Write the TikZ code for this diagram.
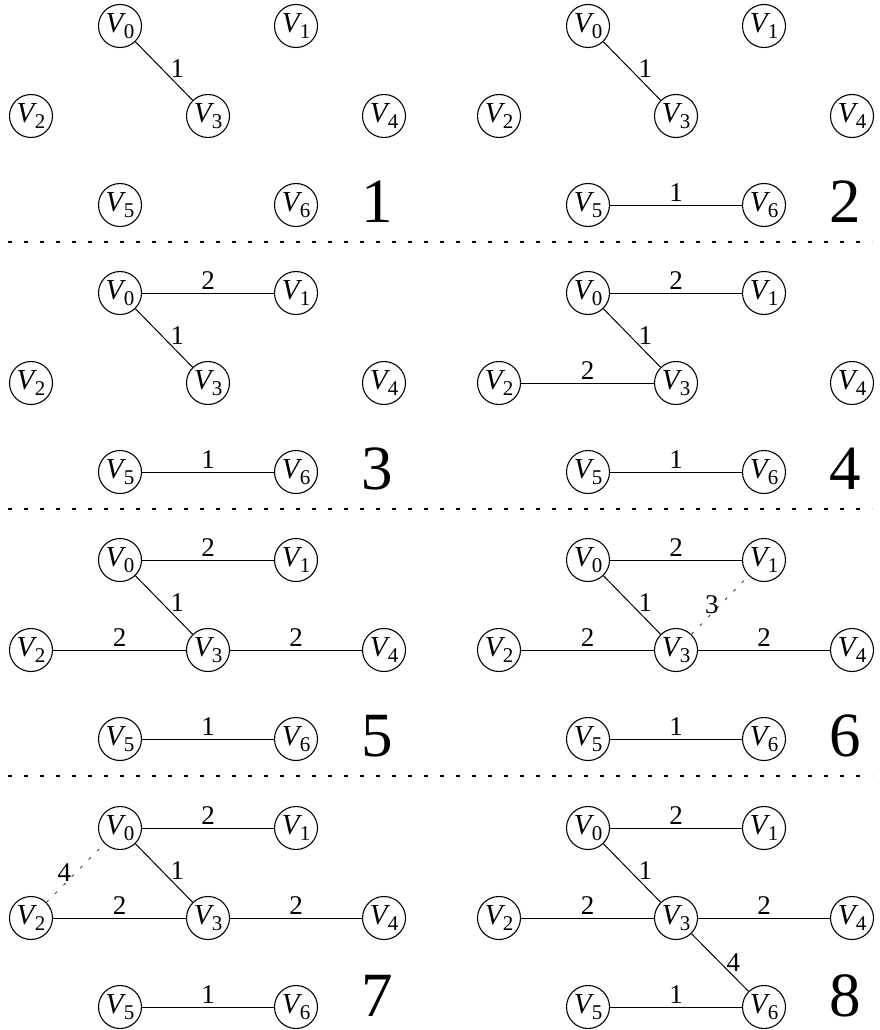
\documentclass[tikz,border=0pt]{standalone}
\usepackage{fontspec}
\setmainfont{Liberation Serif}
\newcommand\Vsub[1]{\fontsize{29}{29}\selectfont\textit{V}\kern-2.5pt\raisebox{-6pt}{\fontsize{21}{21}\selectfont #1}}
\tikzset{
  vert/.style={circle, draw, line width=1.1pt, minimum size=43pt, inner sep=0pt},
  edge/.style={line width=1pt},
  cand/.style={line width=0.9pt, dash pattern=on 3pt off 9pt, black!75},
  lab/.style={font=\fontsize{27}{27}\selectfont, inner sep=2pt, text=black},
  stepnum/.style={font=\fontsize{63}{63}\selectfont, anchor=base, inner sep=0pt, text depth=0pt},
  sep/.style={line width=2pt, dash pattern=on 4pt off 12pt}
}
\newcommand\graphnodes[3]{%
  \node[vert] (#1-0) at (120+#2, 26+#3) {\Vsub{0}};
  \node[vert] (#1-1) at (296+#2, 26+#3) {\Vsub{1}};
  \node[vert] (#1-2) at (31+#2, 116+#3) {\Vsub{2}};
  \node[vert] (#1-3) at (208+#2, 116+#3) {\Vsub{3}};
  \node[vert] (#1-4) at (384+#2, 116+#3) {\Vsub{4}};
  \node[vert] (#1-5) at (120+#2, 205+#3) {\Vsub{5}};
  \node[vert] (#1-6) at (296+#2, 205+#3) {\Vsub{6}};
}
\newcommand\eOne[1]{\draw[edge] (#1-0) -- node[lab, right, xshift=4pt, yshift=2pt] {1} (#1-3);}
\newcommand\eFive[1]{\draw[edge] (#1-5) -- node[lab, above, inner sep=3pt] {1} (#1-6);}
\newcommand\eTwoA[1]{\draw[edge] (#1-0) -- node[lab, above, inner sep=3pt] {2} (#1-1);}
\newcommand\eTwoB[1]{\draw[edge] (#1-2) -- node[lab, above, inner sep=3pt] {2} (#1-3);}
\newcommand\eTwoC[1]{\draw[edge] (#1-3) -- node[lab, above, inner sep=3pt] {2} (#1-4);}
\begin{document}
\begin{tikzpicture}[x=1pt, y=-1pt]
\useasboundingbox (0,0) rectangle (879,1030);
% panel 1
\graphnodes{p1}{0}{0}
\eOne{p1}
\node[stepnum] (n1) at (377, 222) {1};
% panel 2
\graphnodes{p2}{468}{0}
\eOne{p2} \eFive{p2}
\node[stepnum] (n2) at (845, 222) {2};
% separator
\coordinate (s1a) at (8, 242); \coordinate (s1b) at (872, 242);
\draw[sep] (s1a) -- (s1b);
% panel 3
\graphnodes{p3}{0}{267}
\eOne{p3} \eFive{p3} \eTwoA{p3}
\node[stepnum] (n3) at (377, 489) {3};
% panel 4
\graphnodes{p4}{468}{267}
\eOne{p4} \eFive{p4} \eTwoA{p4} \eTwoB{p4}
\node[stepnum] (n4) at (845, 489) {4};
\coordinate (s2a) at (8, 509); \coordinate (s2b) at (872, 509);
\draw[sep] (s2a) -- (s2b);
% panel 5
\graphnodes{p5}{0}{534}
\eOne{p5} \eFive{p5} \eTwoA{p5} \eTwoB{p5} \eTwoC{p5}
\node[stepnum] (n5) at (377, 756) {5};
% panel 6
\graphnodes{p6}{468}{534}
\eOne{p6} \eFive{p6} \eTwoA{p6} \eTwoB{p6} \eTwoC{p6}
\draw[cand] (p6-3) -- node[lab, left, xshift=1pt] {3} (p6-1);
\node[stepnum] (n6) at (845, 756) {6};
\coordinate (s3a) at (8, 776); \coordinate (s3b) at (872, 776);
\draw[sep] (s3a) -- (s3b);
% panel 7
\graphnodes{p7}{0}{802}
\eOne{p7} \eFive{p7} \eTwoA{p7} \eTwoB{p7} \eTwoC{p7}
\draw[cand] (p7-2) -- node[lab, left, xshift=-2pt] {4} (p7-0);
\node[stepnum] (n7) at (377, 1016) {7};
% panel 8
\graphnodes{p8}{468}{802}
\eOne{p8} \eFive{p8} \eTwoA{p8} \eTwoB{p8} \eTwoC{p8}
\draw[edge] (p8-3) -- node[lab, right, xshift=4pt] {4} (p8-6);
\node[stepnum] (n8) at (845, 1016) {8};
\end{tikzpicture}
\end{document}
